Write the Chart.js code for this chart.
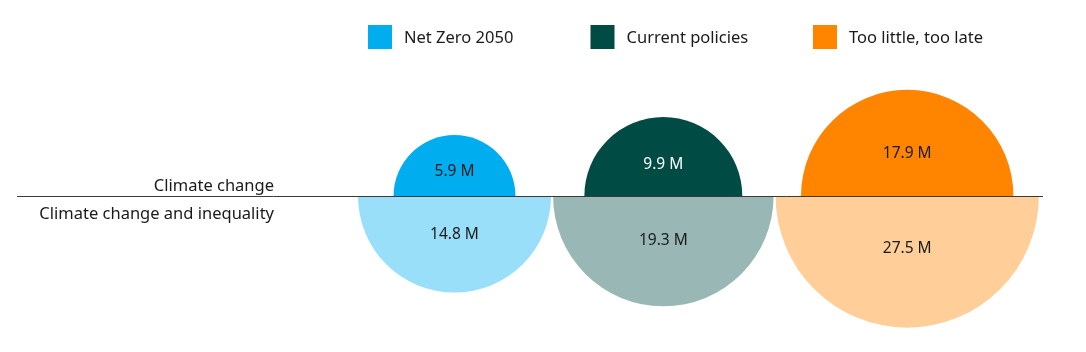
<!DOCTYPE html>
<html>
<head>
<meta charset="utf-8">
<script src="https://cdn.jsdelivr.net/npm/chart.js@4/dist/chart.umd.min.js"></script>
<style>
  html, body { margin: 0; padding: 0; background: #ffffff; }
  #chart { display: block; }
</style>
</head>
<body>
<canvas id="chart" width="1086" height="352"></canvas>
<script>

// ======================
// DATA
// ======================

const scenarios = ["Net Zero 2050", "Current policies", "Too little, too late"];

const climateChange = [5.9, 9.9, 17.9];

const climateInequality = [14.8, 19.3, 27.5];

const rowLabels = ["Climate change", "Climate change and inequality"];

const darkColors = ["#00AEEF", "#004C45", "#FF8400"];

const lightColors = ["#99DFF9", "#99B7B4", "#FFCE99"];

const valueTextColors = ["#1a1a1a", "#ffffff", "#1a1a1a"];


// ======================
// SIZING (area proportional to value)
// ======================

const K = 25.1;
const GAP = 2;
const FONT = "'Noto Sans', 'Open Sans', sans-serif";

const radius = v => K * Math.sqrt(v);

// centres sit so that the lower half circles just touch
const centres = [];
climateInequality.forEach((v, i) => {
    if (i === 0) {
        centres.push(454.5);
    } else {
        centres.push(
            centres[i - 1] + radius(climateInequality[i - 1]) + radius(v) + GAP
        );
    }
});


// ======================
// PLUGINS
// ======================

const halfClip = {
    id: "halfClip",
    beforeDatasetDraw(chart, args) {
        const ctx = chart.ctx;
        const y0 = chart.scales.y.getPixelForValue(0);
        ctx.save();
        ctx.beginPath();
        if (args.index === 0) {
            ctx.rect(0, 0, chart.width, y0);
        } else {
            ctx.rect(0, y0, chart.width, chart.height - y0);
        }
        ctx.clip();
    },
    afterDatasetDraw(chart) {
        chart.ctx.restore();
    }
};

const decorations = {
    id: "decorations",
    afterDatasetsDraw(chart) {
        const ctx = chart.ctx;
        const y0 = chart.scales.y.getPixelForValue(0);

        // baseline
        ctx.save();
        ctx.strokeStyle = "#3a3a3a";
        ctx.lineWidth = 1;
        ctx.beginPath();
        ctx.moveTo(17, y0 + 0.5);
        ctx.lineTo(1043, y0 + 0.5);
        ctx.stroke();

        // row labels
        ctx.fillStyle = "#1a1a1a";
        ctx.font = "16.5px " + FONT;
        ctx.textAlign = "right";
        ctx.textBaseline = "middle";
        ctx.fillText(rowLabels[0], 274, y0 - 10);
        ctx.fillText(rowLabels[1], 274, y0 + 18);

        // value labels
        ctx.textAlign = "center";
        ctx.font = "15.5px " + FONT;
        chart.data.datasets.forEach((ds, d) => {
            const meta = chart.getDatasetMeta(d);
            meta.data.forEach((el, i) => {
                const r = ds.data[i].r;
                const y = d === 0 ? el.y - 0.4 * r : el.y + 0.4 * r;
                ctx.fillStyle = d === 0 ? valueTextColors[i] : "#1a1a1a";
                ctx.fillText(ds.values[i] + " M", el.x, y);
            });
        });

        // legend
        ctx.textAlign = "left";
        ctx.font = "16.5px " + FONT;
        scenarios.forEach((name, i) => {
            const x = 368 + i * 222.5;
            ctx.fillStyle = darkColors[i];
            ctx.fillRect(x, 25, 24, 24);
            ctx.fillStyle = "#1a1a1a";
            ctx.fillText(name, x + 36, 38);
        });

        ctx.restore();
    }
};


// ======================
// CHART
// ======================

new Chart(
    document.getElementById("chart"),
    {
        type: "bubble",

        data: {
            datasets: [
                {
                    label: "Climate change",
                    values: climateChange,
                    data: climateChange.map((v, i) => ({ x: centres[i], y: 0, r: radius(v) })),
                    backgroundColor: darkColors,
                    borderWidth: 0,
                    clip: false
                },
                {
                    label: "Climate change and inequality",
                    values: climateInequality,
                    data: climateInequality.map((v, i) => ({ x: centres[i], y: 0, r: radius(v) })),
                    backgroundColor: lightColors,
                    borderWidth: 0,
                    clip: false
                }
            ]
        },

        options: {
            responsive: false,
            animation: false,
            devicePixelRatio: 1,
            layout: { padding: 0, autoPadding: false },
            plugins: {
                legend: { display: false },
                tooltip: { enabled: false }
            },
            elements: {
                point: { hoverRadius: 0, hoverBorderWidth: 0 }
            },
            scales: {
                x: { type: "linear", min: 0, max: 1086, display: false },
                y: { type: "linear", min: -156, max: 196, display: false }
            }
        },

        plugins: [halfClip, decorations]
    }
);

</script>
</body>
</html>
